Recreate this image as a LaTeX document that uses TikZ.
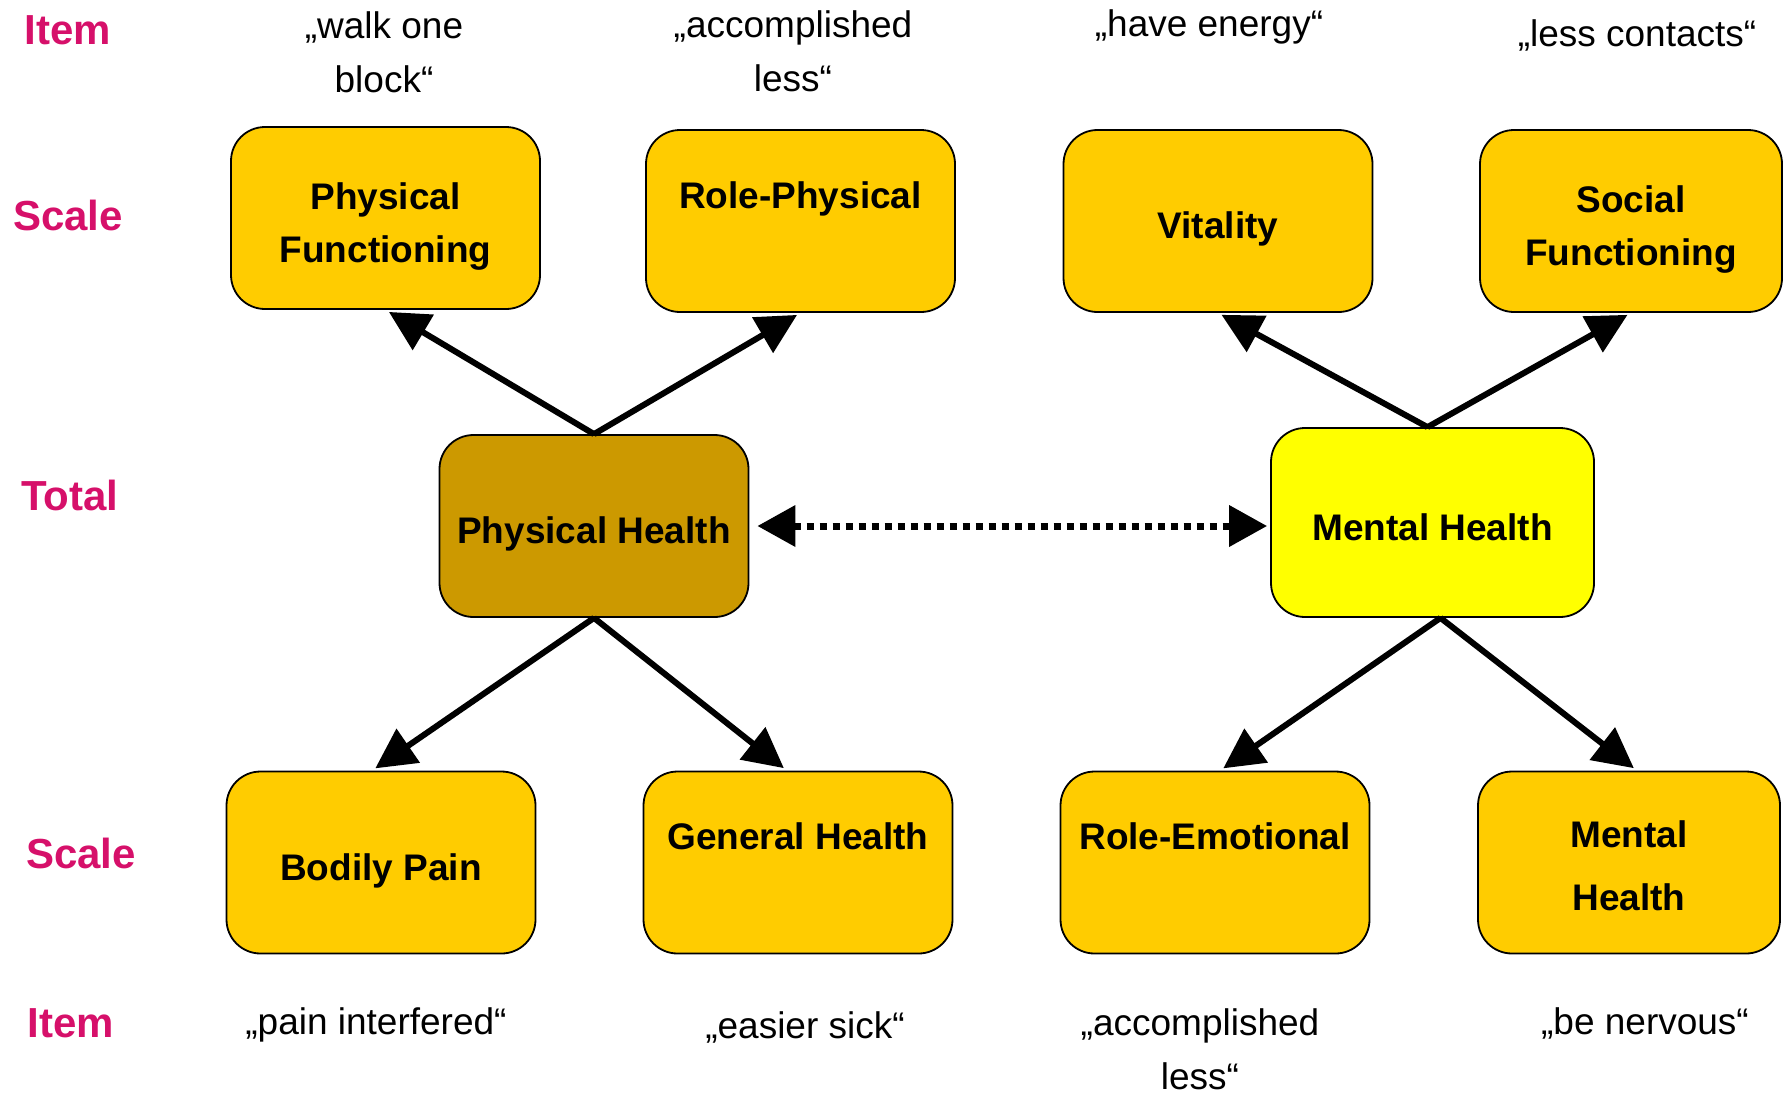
\documentclass[tikz,border=0pt]{standalone}
\usepackage{fontspec}
\setmainfont{Liberation Sans}
\usetikzlibrary{arrows.meta}
\definecolor{boxgold}{HTML}{FFCC00}
\definecolor{phgold}{HTML}{CC9900}
\definecolor{mhyellow}{HTML}{FFFF00}
\definecolor{magentalab}{HTML}{D6106A}
\newcommand\boxpad{\rule{0pt}{43pt}}
\begin{document}
\begin{tikzpicture}[x={(1pt,0)}, y={(0,-1pt)},
 scalebox/.style={draw=black, line width=1.8pt, rounded corners=34pt, fill=boxgold,
   minimum width=309pt, minimum height=182pt, align=center,
   font=\fontsize{37}{53}\selectfont\bfseries, inner sep=0pt},
 rowlab/.style={text=magentalab, font=\fontsize{42}{50}\selectfont\bfseries, inner sep=0pt},
 itemtxt/.style={align=center, font=\fontsize{37}{54}\selectfont, inner sep=0pt},
 link/.style={line width=6pt, -{Triangle[length=40pt,width=40pt]}, shorten >=4pt},
 dottedlink/.style={line width=7pt, dash pattern=on 7pt off 6pt,
   {Triangle[length=38pt,width=40pt]}-{Triangle[length=38pt,width=40pt]}, shorten >=3pt, shorten <=8pt},
]
\useasboundingbox (0,0) rectangle (1783,1093);

% row labels
\node[rowlab] (itemtop) at (68,30) {Item};
\node[rowlab] (scaletop) at (68,215) {Scale};
\node[rowlab] (total) at (70,495) {Total};
\node[rowlab] (scalebot) at (81,853) {Scale};
\node[rowlab] (itembot) at (71,1023) {Item};

% top scale boxes
\node[scalebox] (pf) at (385.5,218) {\boxpad Physical\\Functioning};
\node[scalebox] (rp) at (800.5,221) {\boxpad Role-Physical\\\strut};
\node[scalebox] (vit) at (1218,221) {\boxpad Vitality};
\node[scalebox, minimum width=302pt] (sf) at (1631,221) {\boxpad Social\\Functioning};

% totals
\node[scalebox, fill=phgold] (ph) at (594,526) {\boxpad Physical Health};
\node[scalebox, fill=mhyellow, minimum width=323pt, minimum height=189pt] (mh) at (1432.5,522.5) {\rule{0pt}{36pt}Mental Health};

% bottom scale boxes
\node[scalebox] (bp) at (381,862.5) {\boxpad Bodily Pain};
\node[scalebox] (gh) at (798,862.5) {\boxpad General Health\\\strut};
\node[scalebox] (re) at (1215,862.5) {\boxpad Role-Emotional\\\strut};
\node[scalebox, minimum width=302pt, font=\fontsize{37}{63}\selectfont\bfseries] (mhs) at (1629,862.5) {\rule{0pt}{34pt}Mental\\Health};

% items
\node[itemtxt] (i1) at (384,52) {„walk one\\block“};
\node[itemtxt] (i2) at (793,51) {„accomplished\\less“};
\node[itemtxt] (i3) at (1209,27) {„have energy“};
\node[itemtxt] (i4) at (1637,35) {„less contacts“};
\node[itemtxt] (i5) at (376,1025) {„pain interfered“};
\node[itemtxt] (i6) at (805,1027) {„easier sick“};
\node[itemtxt] (i7) at (1200,1049) {„accomplished\\less“};
\node[itemtxt] (i8) at (1645,1023) {„be nervous“};

% connectors
\draw[link] (ph.north) -- (pf.south);
\draw[link] (ph.north) -- (rp.south);
\draw[link] ([xshift=-5pt]mh.north) -- (vit.south);
\draw[link] ([xshift=-5pt]mh.north) -- (sf.south);
\draw[link] (ph.south) -- ([xshift=-9pt]bp.north);
\draw[link] (ph.south) -- ([xshift=-11pt]gh.north);
\draw[link] ([xshift=8pt]mh.south) -- ([xshift=5pt]re.north);
\draw[link] ([xshift=8pt]mh.south) -- ([xshift=8pt]mhs.north);
\draw[dottedlink] (ph.east) -- (ph.east -| mh.west);
\end{tikzpicture}
\end{document}
